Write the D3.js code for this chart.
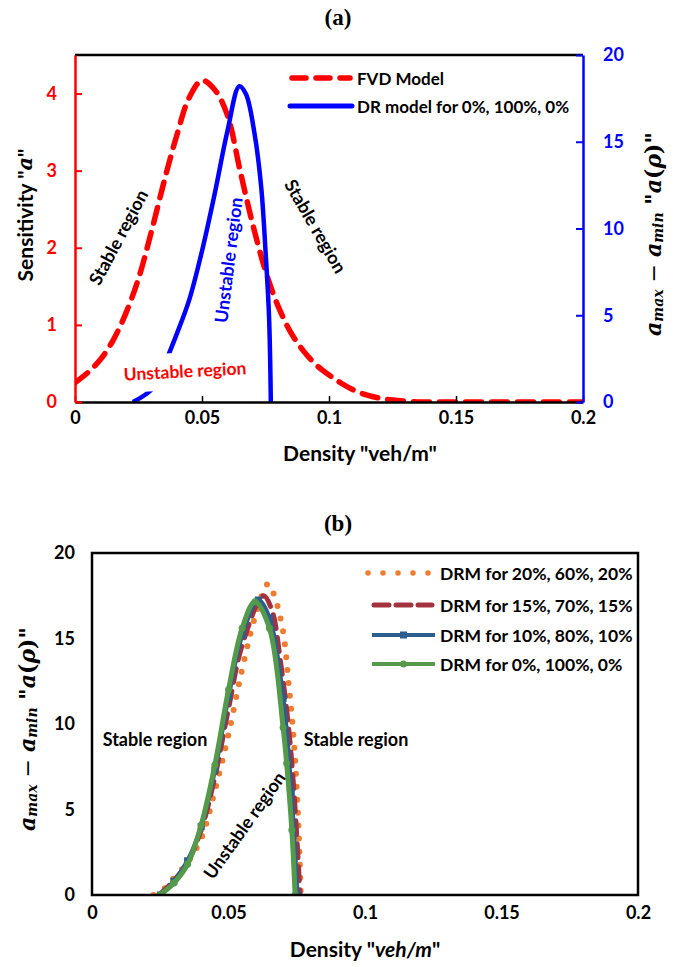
<!DOCTYPE html>
<html><head><meta charset="utf-8">
<script src="https://cdn.jsdelivr.net/npm/d3@7"></script>
<style>
body{margin:0;background:#fff;}
text{font-family:Lato,"Open Sans",sans-serif;font-weight:bold;}
</style></head>
<body><svg id="c" width="682" height="967"></svg>
<script>
// ---------- Data: panel (a) ----------
const fvdDensity = [0,0.005,0.01,0.015,0.02,0.025,0.03,0.035,0.04,0.045,0.05,0.055,0.06,0.065,0.07,0.075,0.08,0.085,0.09,0.095,0.1,0.105,0.11,0.115,0.12,0.125,0.13,0.135,0.14,0.15,0.16,0.17,0.18,0.19,0.2];
const fvdSensitivity = [0.25,0.38,0.55,0.8,1.15,1.6,2.2,2.85,3.45,3.95,4.17,4.05,3.72,3.0,2.3,1.7,1.24,0.9,0.66,0.48,0.35,0.24,0.15,0.09,0.05,0.025,0.01,0,0,0,0,0,0,0,0];
const drDensity = [0.0228,0.0305,0.035,0.04,0.045,0.05,0.055,0.06,0.0647,0.0673,0.0707,0.0733,0.075,0.0764,0.0771];
const drValue   = [0,0.77,2.1,3.9,5.9,8.7,12.0,15.6,18.2,17.75,15.45,12.4,8.73,4.9,0];
const leftTicks = [0,1,2,3,4];
const rightTicks = [0,5,10,15,20];
const xTicks = [0,0.05,0.1,0.15,0.2];

// ---------- Data: panel (b) ----------
const drm20Density = [0.0225,0.0275,0.03,0.035,0.04,0.045,0.05,0.055,0.06,0.0646,0.067,0.07,0.072,0.074,0.0755,0.0765];
const drm20Value   = [0,0.5,1.0,1.9,3.3,6.1,9.4,13.2,16.4,18.2,17.4,15.4,12.4,8.9,4.5,0];
const drm15Density = [0.0245,0.03,0.035,0.04,0.045,0.05,0.055,0.0628,0.066,0.069,0.072,0.074,0.0762];
const drm15Value   = [0,0.85,1.9,3.8,6.9,10.9,14.6,17.5,16.6,13.7,9.8,6.0,0];
const drm10Density = [0.025,0.03,0.035,0.04,0.045,0.05,0.055,0.0609,0.065,0.07,0.073,0.0752];
const drm10Value   = [0,0.8,2.0,4.0,7.3,11.6,15.2,17.25,16.2,11.5,6.0,0];
const drm0Density  = [0.0249,0.03,0.035,0.04,0.045,0.05,0.055,0.0597,0.065,0.07,0.0713,0.0732,0.0744];
const drm0Value    = [0,0.7,1.8,4.1,7.6,12.0,15.6,17.15,15.6,9.8,7.7,3.8,0];
const bTicks = [0,5,10,15,20];

const svg = d3.select("#c");
svg.append("rect").attr("width",682).attr("height",967).attr("fill","#fff");
const defs = svg.append("defs");

function zip(xs, ys){ return xs.map((x,i)=>[x, ys[i]]); }

// ================= Panel (a) =================
const ax = d3.scaleLinear().domain([0,0.2]).range([75,583]);
const ayL = d3.scaleLinear().domain([0,4.5]).range([402,55]);
const ayR = d3.scaleLinear().domain([0,20]).range([402,55]);

svg.append("text").attr("x",338).attr("y",17).attr("text-anchor","middle").attr("dominant-baseline","central")
  .style("font-family","'Liberation Serif',serif").style("font-size","23px").text("(a)");

defs.append("clipPath").attr("id","clipA").append("rect")
  .attr("x",75).attr("y",40).attr("width",508).attr("height",362);

const gA = svg.append("g");
gA.append("line").attr("x1",75).attr("x2",583).attr("y1",55).attr("y2",55).attr("stroke","#000").attr("stroke-width",2.5);

const lineA = d3.line().curve(d3.curveCatmullRom.alpha(0.5));
const plotA = gA.append("g").attr("clip-path","url(#clipA)");
plotA.append("path")
  .attr("d", lineA(zip(fvdDensity,fvdSensitivity).map(d=>[ax(d[0]),ayL(d[1])])))
  .attr("fill","none").attr("stroke","#FF0000").attr("stroke-width",5.5)
  .attr("stroke-dasharray","16,10").attr("stroke-linecap","round");
plotA.append("path")
  .attr("d", lineA(zip(drDensity,drValue).map(d=>[ax(d[0]),ayR(d[1])])))
  .attr("fill","none").attr("stroke","#0000FF").attr("stroke-width",4.5);

const fmt = d3.format("");
const axB = gA.append("g").attr("transform","translate(0,402)")
  .call(d3.axisBottom(ax).tickValues(xTicks).tickFormat(fmt).tickSizeInner(-6).tickSizeOuter(0).tickPadding(20));
axB.select(".domain").attr("stroke","#000").attr("stroke-width",2.5);
axB.selectAll(".tick line").attr("stroke","#000").attr("stroke-width",1.5);
axB.selectAll("text").attr("fill","#000").style("font-size","18px").attr("dy","0.1em");

const axL = gA.append("g").attr("transform","translate(75,0)")
  .call(d3.axisLeft(ayL).tickValues(leftTicks).tickFormat(fmt).tickSizeInner(-7).tickSizeOuter(0).tickPadding(18));
axL.select(".domain").attr("stroke","#FF0000").attr("stroke-width",2.5);
axL.selectAll(".tick line").attr("stroke","#FF0000").attr("stroke-width",2);
axL.selectAll("text").attr("fill","#FF0000").style("font-size","18px");

const axR = gA.append("g").attr("transform","translate(583,0)")
  .call(d3.axisRight(ayR).tickValues(rightTicks).tickFormat(fmt).tickSizeInner(-7).tickSizeOuter(0).tickPadding(20));
axR.select(".domain").attr("stroke","#0000FF").attr("stroke-width",2.5);
axR.selectAll(".tick line").attr("stroke","#0000FF").attr("stroke-width",2);
axR.selectAll("text").attr("fill","#0000FF").style("font-size","18px");

const yl = gA.append("text").attr("transform","translate(24,215) rotate(-90)").attr("text-anchor","middle")
  .attr("dominant-baseline","central").style("font-size","21px");
yl.append("tspan").text("Sensitivity \"");
yl.append("tspan").style("font-family","'DejaVu Serif',serif").style("font-style","italic").text("a");
yl.append("tspan").text("\"");

function mathLabel(g, tr){
  const t = g.append("text").attr("transform",tr).attr("text-anchor","middle").attr("dominant-baseline","central")
    .style("font-family","'DejaVu Serif',serif").style("font-style","italic").style("font-size","22px");
  t.append("tspan").text("a");
  t.append("tspan").attr("dy","5").style("font-size","14px").text("max");
  t.append("tspan").attr("dy","-5").style("font-style","normal").style("font-weight","normal").text(" − ");
  t.append("tspan").text("a");
  t.append("tspan").attr("dy","5").style("font-size","14px").text("min");
  t.append("tspan").attr("dy","-5").style("font-style","normal").text(" \"");
  t.append("tspan").text("a");
  t.append("tspan").style("font-style","normal").text("(");
  t.append("tspan").text("ρ");
  t.append("tspan").style("font-style","normal").text(")\"");
  return t;
}
mathLabel(gA, "translate(653,234) rotate(-90)");

gA.append("text").attr("x",360).attr("y",452).attr("text-anchor","middle").attr("dominant-baseline","central")
  .style("font-size","21px").text("Density \"veh/m\"");

gA.append("line").attr("x1",292).attr("x2",350).attr("y1",78).attr("y2",78)
  .attr("stroke","#FF0000").attr("stroke-width",5.5).attr("stroke-dasharray","14,10").attr("stroke-linecap","round");
gA.append("text").attr("x",357).attr("y",78).attr("dominant-baseline","central").style("font-size","17px").text("FVD Model");
gA.append("line").attr("x1",290).attr("x2",352).attr("y1",106).attr("y2",106)
  .attr("stroke","#0000FF").attr("stroke-width",5).attr("stroke-linecap","round");
gA.append("text").attr("x",357).attr("y",106).attr("dominant-baseline","central").style("font-size","17px").text("DR model for 0%, 100%, 0%");

function rlabel(g, x, y, ang, txt, col, size, bg){
  const grp = g.append("g").attr("transform",`translate(${x},${y}) rotate(${ang})`);
  const t = grp.append("text").attr("text-anchor","middle").attr("dominant-baseline","central")
    .attr("fill",col).style("font-size",size+"px").text(txt);
  if(bg){
    const bb = t.node().getBBox();
    grp.insert("rect","text").attr("x",bb.x-4).attr("y",bb.y-8).attr("width",bb.width+8).attr("height",bb.height+16).attr("fill","#fff");
  }
}
rlabel(gA,118,237,-62,"Stable region","#000",18,false);
rlabel(gA,316,226,60,"Stable region","#000",18,false);
rlabel(gA,228,260,-83,"Unstable region","#0000FF",18,false);
rlabel(gA,185,371,-3,"Unstable region","#FF0000",17.5,true);

// ================= Panel (b) =================
const bx = d3.scaleLinear().domain([0,0.2]).range([92,638]);
const by = d3.scaleLinear().domain([0,20]).range([895,553]);
const gB = svg.append("g");

gB.append("text").attr("x",338).attr("y",523).attr("text-anchor","middle").attr("dominant-baseline","central")
  .style("font-family","'Liberation Serif',serif").style("font-size","23px").text("(b)");

defs.append("clipPath").attr("id","clipB").append("rect")
  .attr("x",92).attr("y",540).attr("width",546).attr("height",355);

const lineB = d3.line().x(d=>bx(d[0])).y(d=>by(d[1])).curve(d3.curveCatmullRom.alpha(0.5));
const plotB = gB.append("g").attr("clip-path","url(#clipB)");
const cOrange="#ED7D31", cRed="#A3323E", cBlue="#2B5E8E", cGreen="#55994A";

plotB.append("path").attr("d",lineB(zip(drm20Density,drm20Value))).attr("fill","none")
  .attr("stroke",cOrange).attr("stroke-width",6).attr("stroke-dasharray","0,13").attr("stroke-linecap","round");
plotB.append("path").attr("d",lineB(zip(drm15Density,drm15Value))).attr("fill","none")
  .attr("stroke",cRed).attr("stroke-width",5).attr("stroke-dasharray","14,9").attr("stroke-linecap","round");
plotB.append("path").attr("d",lineB(zip(drm10Density,drm10Value))).attr("fill","none")
  .attr("stroke",cBlue).attr("stroke-width",4.5);
plotB.selectAll(".sq").data(zip(drm10Density,drm10Value)).join("rect").attr("class","sq")
  .attr("x",d=>bx(d[0])-3.5).attr("y",d=>by(d[1])-3.5).attr("width",7).attr("height",7).attr("fill",cBlue);
plotB.append("path").attr("d",lineB(zip(drm0Density,drm0Value))).attr("fill","none")
  .attr("stroke",cGreen).attr("stroke-width",5);
plotB.selectAll(".ci").data(zip(drm0Density,drm0Value)).join("circle").attr("class","ci")
  .attr("cx",d=>bx(d[0])).attr("cy",d=>by(d[1])).attr("r",3.5).attr("fill",cGreen);

gB.append("rect").attr("x",92).attr("y",553).attr("width",546).attr("height",342)
  .attr("fill","none").attr("stroke","#000").attr("stroke-width",2.5);

const bAxX = gB.append("g").attr("transform","translate(0,895)")
  .call(d3.axisBottom(bx).tickValues(xTicks).tickFormat(fmt).tickSize(0).tickPadding(20));
bAxX.select(".domain").remove();
bAxX.selectAll("text").attr("fill","#000").style("font-size","18px").attr("dy","0.2em");
const bAxY = gB.append("g").attr("transform","translate(92,0)")
  .call(d3.axisLeft(by).tickValues(bTicks).tickFormat(fmt).tickSize(0).tickPadding(17));
bAxY.select(".domain").remove();
bAxY.selectAll("text").attr("fill","#000").style("font-size","18px");

mathLabel(gB, "translate(27,729) rotate(-90)");
const xl = gB.append("text").attr("x",365).attr("y",948).attr("text-anchor","middle").attr("dominant-baseline","central").style("font-size","21px");
xl.append("tspan").text("Density \"");
xl.append("tspan").style("font-style","italic").text("veh/m");
xl.append("tspan").text("\"");

const legB = [
  {label:"DRM for 20%, 60%, 20%", y:573},
  {label:"DRM for 15%, 70%, 15%", y:605},
  {label:"DRM for 10%, 80%, 10%", y:635},
  {label:"DRM for 0%, 100%, 0%", y:664}
];
gB.append("line").attr("x1",368).attr("x2",430).attr("y1",legB[0].y).attr("y2",legB[0].y)
  .attr("stroke",cOrange).attr("stroke-width",5.5).attr("stroke-dasharray","0,15").attr("stroke-linecap","round");
gB.append("line").attr("x1",374).attr("x2",432).attr("y1",legB[1].y).attr("y2",legB[1].y)
  .attr("stroke",cRed).attr("stroke-width",5).attr("stroke-dasharray","15,7").attr("stroke-linecap","round");
gB.append("line").attr("x1",372).attr("x2",435).attr("y1",legB[2].y).attr("y2",legB[2].y).attr("stroke",cBlue).attr("stroke-width",4);
gB.append("rect").attr("x",400).attr("y",legB[2].y-3.5).attr("width",7).attr("height",7).attr("fill",cBlue);
gB.append("line").attr("x1",372).attr("x2",435).attr("y1",legB[3].y).attr("y2",legB[3].y).attr("stroke",cGreen).attr("stroke-width",4);
gB.append("circle").attr("cx",403.5).attr("cy",legB[3].y).attr("r",3.5).attr("fill",cGreen);
gB.selectAll(".lt").data(legB).join("text").attr("class","lt").attr("x",440).attr("y",d=>d.y)
  .attr("dominant-baseline","central").style("font-size","17.5px").text(d=>d.label);

rlabel(gB,155,739,0,"Stable region","#000",18,false);
rlabel(gB,356,739,0,"Stable region","#000",18,false);
rlabel(gB,244,825,-54.5,"Unstable region","#000",18,false);
</script></body></html>
